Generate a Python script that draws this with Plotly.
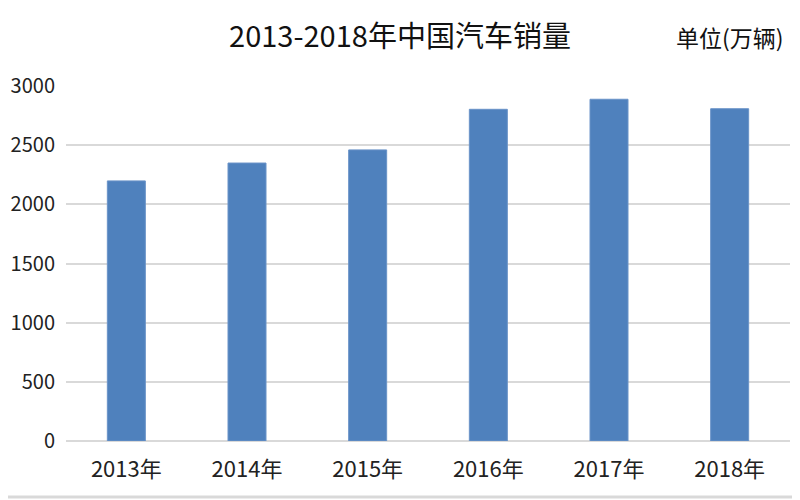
import plotly.graph_objects as go

years = ["2013年", "2014年", "2015年", "2016年", "2017年", "2018年"]
sales = [2198, 2349, 2460, 2803, 2888, 2808]
y_ticks = [0, 500, 1000, 1500, 2000, 2500, 3000]

FONT = "Noto Sans CJK SC, Liberation Sans, sans-serif"

# page body has an 8px default margin; the figure is sized to fill the rest
W, H = 792, 492
L, R, T, B = 58, 10, 78, 59
PW, PH = W - L - R, H - T - B

fig = go.Figure(go.Bar(
    x=years, y=sales,
    marker=dict(color="#4f81bd", line=dict(color="#6a93c8", width=1)),
))

fig.update_layout(
    width=W, height=H,
    margin=dict(l=L, r=R, t=T, b=B, autoexpand=False),
    paper_bgcolor="white", plot_bgcolor="white",
    bargap=0.685,
    showlegend=False,
    font=dict(family=FONT, color="#222222", size=22),
    title=dict(text="2013-2018年中国汽车销量", x=(400 - 8) / W, xanchor="center",
               y=1 - 29 / H, yanchor="middle",
               font=dict(family=FONT, size=29, color="#111111")),
    annotations=[dict(text="单位(万辆)", xref="paper", yref="paper",
                      x=(722 - L) / PW, y=1 + (T - 29) / PH,
                      xanchor="center", yanchor="middle", showarrow=False,
                      font=dict(family=FONT, size=23, color="#111111"))],
    shapes=[
        dict(type="line", xref="paper", yref="paper", x0=-L / PW, x1=1 + R / PW,
             y0=-(489 - (T + PH)) / PH, y1=-(489 - (T + PH)) / PH,
             line=dict(color="#d9d9d9", width=3)),
    ],
)

fig.update_xaxes(showgrid=False, showline=False, ticks="", automargin=False,
                 tickfont=dict(size=22, family=FONT, color="#222222"),
                 ticklabelstandoff=13)
fig.update_yaxes(range=[0, 3000], tickvals=y_ticks, showgrid=True, automargin=False,
                 gridcolor="#d9d9d9", gridwidth=2, zeroline=True,
                 zerolinecolor="#d9d9d9", zerolinewidth=2, showline=False,
                 tickfont=dict(size=20, family=FONT, color="#222222"),
                 ticklabelstandoff=10)

fig.write_html("out.html")
